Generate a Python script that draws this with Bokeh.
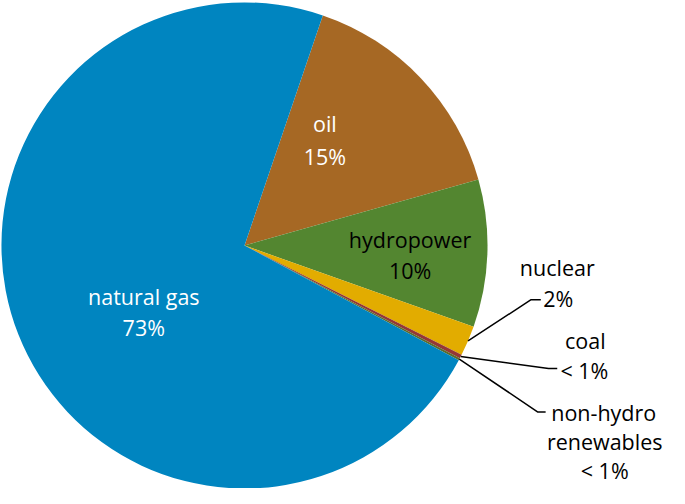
import numpy as np
from bokeh.plotting import figure
from bokeh.models import ColumnDataSource, Range1d
from bokeh.core.properties import value
from bokeh.embed import file_html
from bokeh.resources import INLINE

# ---- data ----
categories = ["oil", "hydropower", "nuclear", "coal", "non-hydro renewables", "natural gas"]
shares = [15.4, 9.8, 2.0, 0.25, 0.15, 72.4]
share_labels = ["15%", "10%", "2%", "< 1%", "< 1%", "73%"]
name_lines = [["oil"], ["hydropower"], ["nuclear"], ["coal"], ["non-hydro", "renewables"], ["natural gas"]]
colors = ["#A66824", "#538630", "#E2AC00", "#953735", "#5E6B2A", "#0085C0"]
first_slice_deg = 18.8  # clockwise from 12 o'clock

# ---- layout ----
W, H = 669, 488
S = H / 504.0  # uniform scale of the 685x504 design into the figure

def T(X, Y):
    return X * S, H - Y * S

cx, cy = T(252, 253)
R = 251.0 * S

p = figure(width=W, height=H, x_range=Range1d(0, W), y_range=Range1d(0, H),
           output_backend="svg", toolbar_location=None, min_border=0,
           x_axis_type=None, y_axis_type=None)
p.grid.visible = False
p.outline_line_color = None
p.background_fill_color = "white"
p.border_fill_color = "white"

fr = np.array(shares) / np.sum(shares)
cum = np.concatenate([[0], np.cumsum(fr)])
start_deg = first_slice_deg + 360 * cum[:-1]
end_deg = first_slice_deg + 360 * cum[1:]
mid_deg = (start_deg + end_deg) / 2

src = ColumnDataSource(dict(
    cat=categories, color=colors,
    start=np.radians(90 - start_deg), end=np.radians(90 - end_deg),
))
p.wedge(x=cx, y=cy, radius=R, start_angle="start", end_angle="end", direction="clock",
        fill_color="color", line_color=None, source=src)

font = value("Open Sans")
fs = "%.1fpx" % (22.2 * S)

# label placement (design coords: centre x, baseline y per line) and colour
placement = {
    0: ([(335, 127), (335, 161)], "white"),
    1: ([(423, 247), (423, 279)], "black"),
    5: ([(148, 306), (148, 338)], "white"),
    2: ([(575, 276), (576, 308)], "black"),
    3: ([(604, 351), (603, 382)], "black"),
    4: ([(623, 425), (624, 455), (624, 485)], "black"),
}
for i, (poss, col) in placement.items():
    lines = name_lines[i] + [share_labels[i]]
    for t, (rx, ry) in zip(lines, poss):
        x, y = T(rx, ry)
        p.text(x=[x], y=[y], text=[t], text_font=font, text_font_size=fs,
               text_color=col, text_align="center", text_baseline="alphabetic")

# leader lines: (index, elbow, end) in design coords
leaders = {2: ((548, 309), (558, 309)), 3: ((566, 380), (575, 380)), 4: ((555, 425), (563, 425))}
for i, (el, en) in leaders.items():
    a = np.radians(90 - mid_deg[i])
    sx, sy = cx + R * np.cos(a), cy + R * np.sin(a)
    ex, ey = T(*el)
    nx, ny = T(*en)
    p.line(x=[sx, ex, nx], y=[sy, ey, ny], line_color="black", line_width=1.5)

open("out.html", "w").write(file_html(p, INLINE))
